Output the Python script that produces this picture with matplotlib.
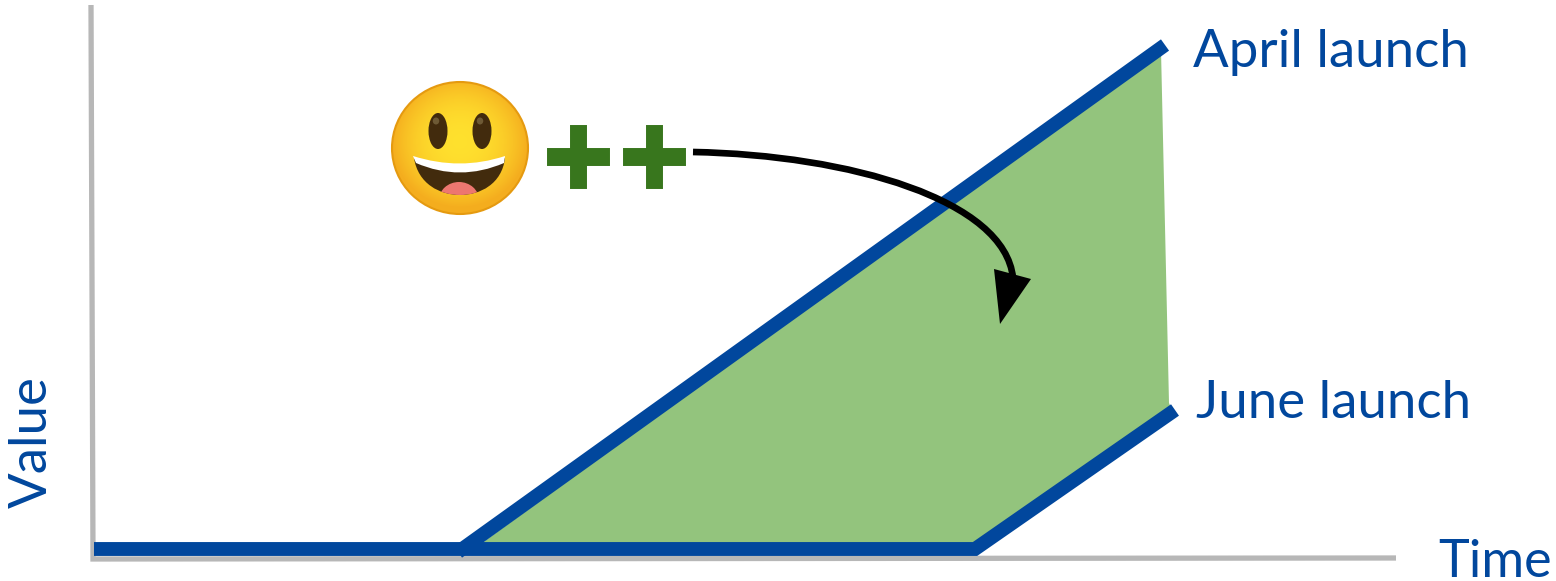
""" Value over time for an April launch vs a June launch"""

import numpy as np
import matplotlib
matplotlib.use("Agg")
import matplotlib.pyplot as plt
import matplotlib.patches as mpatches
import matplotlib.patheffects as pe
from matplotlib.path import Path

BLUE = "#01479d"
GREY = "#b7b7b7"
GREEN = "#93c47d"
DARK_GREEN = "#38761d"

axis_x = [91, 93, 1396]
axis_y = [5, 559, 558]
april_x = [458, 1165]
april_y = [552, 45]
june_x = [94, 975, 1175]
june_y = [549, 549, 410]
gain_x = [482, 1161, 1169, 1172, 975, 970]
gain_y = [543, 50, 403, 410, 549, 549]
labels = ["April launch", "June launch", "Time", "Value"]

fig = plt.figure(figsize=(15.56, 5.81), dpi=100)
ax = fig.add_axes([0, 0, 1, 1])
ax.axis("off")

ax.fill(gain_x, gain_y, color=GREEN, lw=0, zorder=1)
ax.plot(axis_x, axis_y, color=GREY, lw=3.8, solid_capstyle="butt", solid_joinstyle="miter", zorder=2)
ax.plot(june_x, june_y, color=BLUE, lw=10, solid_capstyle="butt", solid_joinstyle="miter", zorder=3)
ax.plot(april_x, april_y, color=BLUE, lw=10, solid_capstyle="butt", zorder=3)

font = ["Lato", "DejaVu Sans"]
ax.text(1193, 67, labels[0], color=BLUE, fontsize=38, family=font, ha="left", va="baseline")
ax.text(1196, 418, labels[1], color=BLUE, fontsize=38, family=font, ha="left", va="baseline")
ax.text(1438, 577, labels[2], color=BLUE, fontsize=37.5, family=font, ha="left", va="baseline")
ax.text(56, 442, labels[3], color=BLUE, fontsize=38, family=font, rotation=90, ha="right", va="center")

for px in [578, 654]:
    ax.text(px, 160, "+", color=DARK_GREEN, fontsize=65, family="DejaVu Sans", weight="bold",
            ha="center", va="center", zorder=5,
            path_effects=[pe.withStroke(linewidth=5, foreground=DARK_GREEN, joinstyle="miter")])

# curved arrow
curve = Path(
    [(693, 152), (850, 155), (1005, 200), (1013, 278)],
    [Path.MOVETO, Path.CURVE4, Path.CURVE4, Path.CURVE4],
)
ax.add_patch(mpatches.PathPatch(curve, fc="none", ec="black", lw=4.8, capstyle="butt", zorder=6))
ax.add_patch(mpatches.Polygon([(994, 269), (1031, 279), (1000, 324)], color="black", lw=0, zorder=6))

# smiley face
cx, cy, rx, ry = 460, 148, 68, 66
gy, gx = np.mgrid[-1:1:200j, -1:1:200j]
r = np.clip(np.hypot(gx, gy + 0.1), 0, 1)
top = np.array([1.0, 0.88, 0.18])
edge = np.array([0.96, 0.68, 0.12])
img = top + (edge - top) * r[..., None] ** 2.2
face = mpatches.Ellipse((cx, cy), 2 * rx, 2 * ry, fc="none", ec="#e59a10", lw=1.5, zorder=7)
im = ax.imshow(img, extent=[cx - rx, cx + rx, cy + ry, cy - ry], zorder=6.5, aspect="auto")
ax.add_patch(face)
im.set_clip_path(face)

for ex in [438, 482]:
    ax.add_patch(mpatches.Ellipse((ex, 131), 19, 36, color="#422b0d", lw=0, zorder=8))
    ax.add_patch(mpatches.Ellipse((ex - 2, 121), 6.5, 7, color="#6e5a35", lw=0, zorder=9))

mouth_verts = [(414, 158), (460, 172), (505, 158), (502, 184), (480, 195), (460, 195),
               (440, 195), (418, 184), (414, 158)]
mouth_codes = [Path.MOVETO, Path.CURVE3, Path.CURVE3, Path.CURVE4, Path.CURVE4, Path.CURVE4,
               Path.CURVE4, Path.CURVE4, Path.CURVE4]
mouth = mpatches.PathPatch(Path(mouth_verts, mouth_codes), fc="#422b0d", ec="none", zorder=8)
ax.add_patch(mouth)
tongue = mpatches.Ellipse((459, 200), 40, 36, color="#ed7770", lw=0, zorder=9)
ax.add_patch(tongue)
tongue.set_clip_path(mouth)
teeth_verts = [(413, 156), (460, 171), (505, 156), (504, 163), (460, 182), (416, 163), (413, 156)]
teeth_codes = [Path.MOVETO, Path.CURVE3, Path.CURVE3, Path.LINETO, Path.CURVE3, Path.CURVE3, Path.CLOSEPOLY]
ax.add_patch(mpatches.PathPatch(Path(teeth_verts, teeth_codes), fc="white", ec="none", zorder=10))

ax.set_xlim(0, 1556)
ax.set_ylim(581, 0)

fig.savefig("out.png", dpi=100)
